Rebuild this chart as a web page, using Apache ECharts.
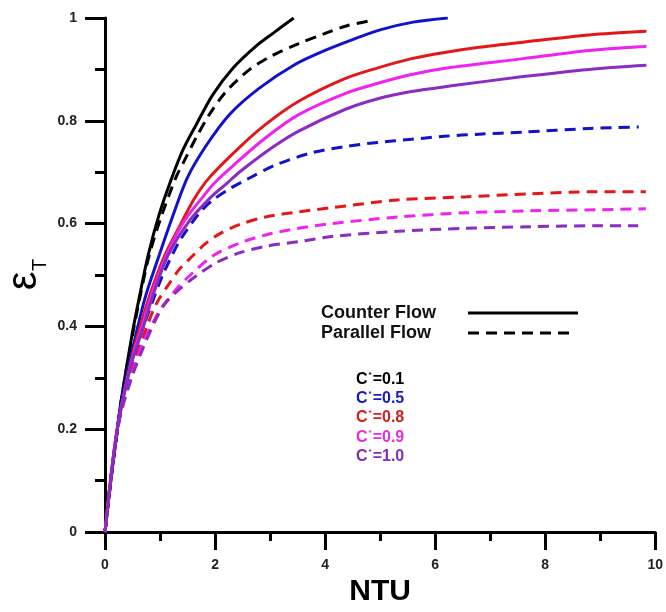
<!DOCTYPE html>
<html>
<head>
    <meta charset="utf-8" />
    <title>Effectiveness vs NTU</title>
    <script type="text/javascript" src="https://cdn.jsdelivr.net/npm/echarts@6/dist/echarts.min.js"></script>
    <style>
        body { margin: 0; background: #fff; }
        #chart { width: 666px; height: 612px; }
    </style>
</head>
<body>
<div id="chart"></div>
<script type="text/javascript">
    // NTU / effectiveness, one pair of arrays per curve
    // counter flow (solid)
    var ntuCounter01 = [0, 0.1, 0.2, 0.3, 0.49, 0.63, 0.78, 0.99, 1.2, 1.41, 1.66, 1.96, 2.32, 2.74, 3.1, 3.43];
    var effCounter01 = [0, 0.095, 0.18, 0.26, 0.383, 0.46, 0.537, 0.62, 0.685, 0.742, 0.793, 0.851, 0.902, 0.945, 0.974, 1.0];
    var ntuCounter05 = [0, 0.1, 0.2, 0.3, 0.56, 0.74, 0.98, 1.2, 1.5, 1.84, 2.26, 2.8, 3.46, 4.0, 4.5, 5.0, 5.6, 6.23];
    var effCounter05 = [0, 0.095, 0.18, 0.255, 0.383, 0.46, 0.537, 0.605, 0.69, 0.752, 0.812, 0.863, 0.91, 0.937, 0.958, 0.977, 0.992, 1.0];
    var ntuCounter08 = [0, 0.1, 0.2, 0.3, 0.5, 0.64, 0.81, 1.08, 1.38, 1.62, 1.9, 2.44, 2.92, 3.52, 4.36, 4.96, 5.57, 6.17, 6.8, 7.6, 8.8, 9.84];
    var effCounter08 = [0, 0.1, 0.185, 0.245, 0.344, 0.40, 0.46, 0.537, 0.60, 0.648, 0.69, 0.748, 0.793, 0.838, 0.882, 0.903, 0.921, 0.933, 0.943, 0.953, 0.967, 0.974];
    var ntuCounter09 = [0, 0.1, 0.2, 0.3, 0.5, 0.66, 0.84, 1.11, 1.44, 1.8, 2.0, 2.32, 2.92, 3.52, 4.36, 4.96, 5.57, 6.3, 7.6, 8.8, 9.84];
    var effCounter09 = [0, 0.1, 0.185, 0.245, 0.34, 0.395, 0.46, 0.537, 0.605, 0.655, 0.68, 0.712, 0.767, 0.812, 0.853, 0.873, 0.89, 0.904, 0.921, 0.937, 0.945];
    var ntuCounter10 = [0, 0.1, 0.2, 0.3, 0.5, 0.68, 0.87, 1.14, 1.53, 1.93, 2.2, 2.44, 3.04, 3.52, 4.36, 4.96, 5.57, 6.3, 7.6, 8.8, 9.84];
    var effCounter10 = [0, 0.1, 0.185, 0.245, 0.335, 0.393, 0.46, 0.537, 0.605, 0.652, 0.677, 0.70, 0.748, 0.78, 0.822, 0.843, 0.857, 0.868, 0.886, 0.9, 0.908];

    // parallel flow (dashed)
    var ntuParallel01 = [0, 0.1, 0.2, 0.3, 0.5, 0.64, 0.8, 1.02, 1.29, 1.44, 1.655, 1.895, 2.2, 2.62, 3.04, 3.52, 4.0, 4.4, 4.84];
    var effParallel01 = [0, 0.095, 0.18, 0.26, 0.383, 0.46, 0.537, 0.613, 0.69, 0.722, 0.767, 0.812, 0.857, 0.899, 0.927, 0.95, 0.97, 0.985, 0.995];
    var ntuParallel05 = [0, 0.1, 0.2, 0.3, 0.5, 0.72, 0.87, 1.05, 1.35, 1.71, 1.95, 2.3, 2.56, 3.1, 3.76, 4.36, 4.96, 5.57, 6.17, 6.8, 7.6, 8.8, 9.7];
    var effParallel05 = [0, 0.1, 0.18, 0.245, 0.33, 0.405, 0.45, 0.50, 0.565, 0.62, 0.645, 0.67, 0.685, 0.714, 0.738, 0.75, 0.758, 0.764, 0.77, 0.774, 0.778, 0.785, 0.788];
    var ntuParallel08 = [0, 0.1, 0.2, 0.3, 0.5, 0.7, 0.87, 0.99, 1.14, 1.35, 1.59, 1.835, 2.08, 2.44, 2.92, 3.52, 4.12, 5.32, 6.53, 7.73, 8.93, 9.83];
    var effParallel08 = [0, 0.1, 0.18, 0.24, 0.32, 0.38, 0.43, 0.455, 0.479, 0.511, 0.537, 0.562, 0.58, 0.598, 0.613, 0.623, 0.631, 0.646, 0.652, 0.658, 0.662, 0.662];
    var ntuParallel09 = [0, 0.1, 0.2, 0.3, 0.5, 0.7, 0.96, 1.11, 1.35, 1.59, 1.955, 2.44, 2.92, 3.52, 4.12, 5.32, 6.53, 7.73, 8.93, 9.83];
    var effParallel09 = [0, 0.1, 0.18, 0.24, 0.31, 0.37, 0.425, 0.448, 0.479, 0.504, 0.537, 0.562, 0.578, 0.591, 0.6, 0.613, 0.621, 0.625, 0.627, 0.629];
    var ntuParallel10 = [0, 0.1, 0.2, 0.3, 0.5, 0.7, 0.93, 1.11, 1.35, 1.655, 2.02, 2.44, 2.92, 3.52, 4.12, 5.32, 6.53, 7.73, 8.93, 9.69];
    var effParallel10 = [0, 0.1, 0.18, 0.235, 0.305, 0.36, 0.415, 0.447, 0.472, 0.498, 0.524, 0.543, 0.556, 0.565, 0.575, 0.585, 0.591, 0.594, 0.596, 0.596];

    var capRatios = ['0.1', '0.5', '0.8', '0.9', '1.0'];
    var curveColors = ['#000000', '#1212cc', '#e21818', '#ee24ee', '#8a2cc0'];
    var labelColors = ['#000000', '#1c1cb4', '#d02020', '#e030e0', '#8030b0'];

    function pairs(xs, ys) {
        var out = [];
        for (var i = 0; i < xs.length; i++) {
            out.push([xs[i], ys[i]]);
        }
        return out;
    }

    var counterData = [
        pairs(ntuCounter01, effCounter01),
        pairs(ntuCounter05, effCounter05),
        pairs(ntuCounter08, effCounter08),
        pairs(ntuCounter09, effCounter09),
        pairs(ntuCounter10, effCounter10)
    ];
    var parallelData = [
        pairs(ntuParallel01, effParallel01),
        pairs(ntuParallel05, effParallel05),
        pairs(ntuParallel08, effParallel08),
        pairs(ntuParallel09, effParallel09),
        pairs(ntuParallel10, effParallel10)
    ];

    var series = [];
    for (var i = 0; i < capRatios.length; i++) {
        series.push({
            name: 'Counter C*=' + capRatios[i],
            type: 'line',
            data: counterData[i],
            showSymbol: false,
            smooth: 0.3,
            lineStyle: { color: curveColors[i], width: 3, type: 'solid' },
            z: 3
        });
        series.push({
            name: 'Parallel C*=' + capRatios[i],
            type: 'line',
            data: parallelData[i],
            showSymbol: false,
            smooth: 0.3,
            lineStyle: { color: curveColors[i], width: 3, type: [11, 7] },
            z: 2
        });
    }

    var axisFont = { fontFamily: 'Liberation Sans', fontWeight: 'bold', fontSize: 14, color: '#222' };

    // legend drawn by hand, like the original figure
    var graphics = [
        { type: 'text', x: 321, y: 313, style: { text: 'Counter Flow', font: 'bold 18px "Liberation Sans"', fill: '#111', verticalAlign: 'middle' } },
        { type: 'text', x: 321, y: 333, style: { text: 'Parallel Flow', font: 'bold 18px "Liberation Sans"', fill: '#111', verticalAlign: 'middle' } },
        { type: 'line', shape: { x1: 468, y1: 313, x2: 578, y2: 313 }, style: { stroke: '#000', lineWidth: 3 } },
        { type: 'line', shape: { x1: 468, y1: 333, x2: 572, y2: 333 }, style: { stroke: '#000', lineWidth: 3, lineDash: [11, 7] } },
        // y axis name: epsilon with subscript T, rotated
        { type: 'text', x: 24, y: 281, rotation: Math.PI / 2, style: { text: 'ε', font: '42px "Liberation Sans"', fill: '#000', align: 'center', verticalAlign: 'middle' } },
        { type: 'text', x: 40, y: 265, rotation: Math.PI / 2, style: { text: 'T', font: '20px "Liberation Sans"', fill: '#000', align: 'center', verticalAlign: 'middle' } }
    ];
    var labelY = [380, 399, 418, 438, 457];
    for (var k = 0; k < capRatios.length; k++) {
        graphics.push({
            type: 'text', x: 356, y: labelY[k],
            style: {
                text: '{a|C}{s|*}{a|=' + capRatios[k] + '}',
                verticalAlign: 'middle',
                rich: {
                    a: { font: 'bold 16px "Liberation Sans"', fill: labelColors[k], lineHeight: 18 },
                    s: { font: 'bold 8px "Liberation Sans"', fill: labelColors[k], verticalAlign: 'top', lineHeight: 18, padding: [0, 1, 8, 1] }
                }
            }
        });
    }

    var myChart = echarts.init(document.getElementById('chart'));
    var option = {
        animation: false,
        backgroundColor: '#ffffff',
        grid: { left: 105, right: 7, top: 18, bottom: 73 },
        xAxis: {
            type: 'value',
            min: 0,
            max: 10,
            interval: 2,
            name: 'NTU',
            nameLocation: 'middle',
            nameGap: 43,
            nameTextStyle: { fontFamily: 'Liberation Sans', fontWeight: 'bold', fontSize: 30, color: '#000' },
            axisLine: { lineStyle: { color: '#000', width: 3 } },
            axisTick: { show: true, length: 18, lineStyle: { color: '#000', width: 3 } },
            minorTick: { show: true, splitNumber: 2, length: 9, lineStyle: { color: '#000', width: 3 } },
            axisLabel: Object.assign({ margin: 26 }, axisFont),
            splitLine: { show: false }
        },
        yAxis: {
            type: 'value',
            min: 0,
            max: 1,
            interval: 0.2,
            axisLine: { show: true, lineStyle: { color: '#000', width: 3 } },
            axisTick: { show: true, length: 20, lineStyle: { color: '#000', width: 3 } },
            minorTick: { show: true, splitNumber: 2, length: 10, lineStyle: { color: '#000', width: 3 } },
            axisLabel: Object.assign({ margin: 28 }, axisFont),
            splitLine: { show: false }
        },
        graphic: graphics,
        series: series
    };
    myChart.setOption(option);
</script>
</body>
</html>
